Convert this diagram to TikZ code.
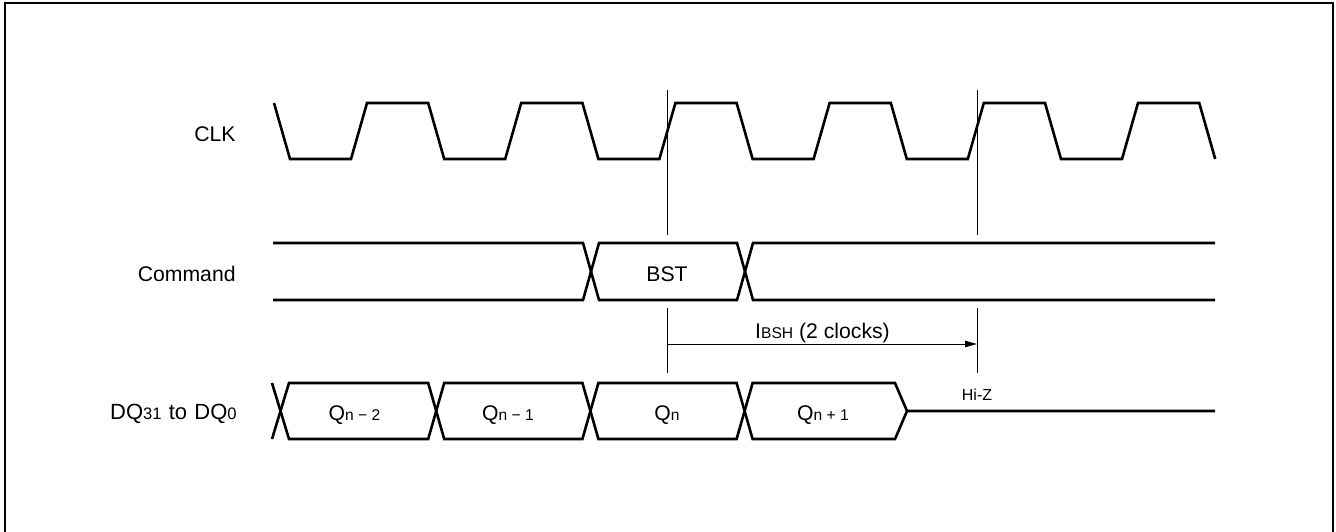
\documentclass[tikz,border=0pt]{standalone}
\usepackage{fontspec}
\setmainfont{Liberation Sans}
\usetikzlibrary{arrows.meta}
\newcommand\smtxt[1]{{\fontsize{7.8}{9}\selectfont #1}}
\newcommand\dqsub[1]{{\fontsize{8.3}{9}\selectfont #1}}
\tikzset{
  wave/.style={line width=1.3pt, line join=miter},
  ref/.style={line width=0.5pt},
  frame/.style={line width=0.85pt},
  lbl/.style={anchor=base east, inner sep=0pt, font=\fontsize{10.6}{13}\selectfont},
  val/.style={anchor=base, inner sep=0pt, font=\fontsize{10.6}{13}\selectfont},
  small/.style={anchor=base, inner sep=0pt, font=\fontsize{8}{9}\selectfont},
  dim/.style={line width=0.5pt, -{Triangle[length=6pt,width=3.2pt]}}
}
\begin{document}
\begin{tikzpicture}[x=0.5pt,y=-0.5pt]
\useasboundingbox (0,0) rectangle (1336,531);
\clip (0,0) rectangle (1336,531);
% frame
\draw[frame] (5,620) -- (5,3) -- (1333,3) -- (1333,620);

% labels
\node[lbl] (clk) at (236,141.5) {CLK};
\node[lbl] (cmd) at (236,281.5) {Command};
\node[lbl, font=\fontsize{11}{13}\selectfont] (dq) at (237,419.5) {DQ\dqsub{31}\hspace{3.6pt}to\hspace{3.6pt}DQ\dqsub{0}};

% CLK waveform
\draw[wave] (274,103) -- (290,159) -- (351,159) -- (367,103)
  -- (428.2,103) -- (444.2,159) -- (505.2,159) -- (521.2,103)
  -- (582.4,103) -- (598.4,159) -- (659.4,159) -- (675.4,103)
  -- (736.6,103) -- (752.6,159) -- (813.6,159) -- (829.6,103)
  -- (890.8,103) -- (906.8,159) -- (967.8,159) -- (983.8,103)
  -- (1045,103) -- (1061,159) -- (1122,159) -- (1138,103)
  -- (1199.2,103) -- (1215.2,159);

% reference lines
\coordinate (r1t) at (667,90);
\coordinate (r1m) at (667,235);
\coordinate (r1n) at (667,308);
\coordinate (r1b) at (667,373);
\coordinate (r2t) at (977,90);
\coordinate (r2m) at (977,235);
\coordinate (r2n) at (977,308);
\coordinate (r2b) at (977,373);
\draw[ref] (r1t) -- (r1m) (r1n) -- (r1b);
\draw[ref] (r2t) -- (r2m) (r2n) -- (r2b);

% Command bus
\draw[wave] (273,243) -- (583,243) -- (599,300) -- (737,300) -- (753,243) -- (1215,243);
\draw[wave] (273,300) -- (583,300) -- (599,243) -- (737,243) -- (753,300) -- (1215,300);
\node[val] (bst) at (667,281.5) {BST};

% tBSH arrow
\coordinate (a1) at (667,344);
\coordinate (a2) at (977,344);
\draw[dim] (a1) -- (a2);
\node[val] (ibsh) at (822.5,338.3) {I\smtxt{BSH} (2 clocks)};

% DQ bus
\draw[wave] (272,383) -- (289,439) -- (428.2,439) -- (444.2,383) -- (582.4,383) -- (598.4,439)
  -- (736.6,439) -- (752.6,383) -- (895,383) -- (907,411) -- (1215,411);
\draw[wave] (272,439) -- (289,383) -- (428.2,383) -- (444.2,439) -- (582.4,439) -- (598.4,383)
  -- (736.6,383) -- (752.6,439) -- (895,439) -- (907,411);
\node[val] (q2) at (354.5,420) {Q\smtxt{n − 2}};
\node[val] (q1) at (508,420) {Q\smtxt{n − 1}};
\node[val] (q0) at (667,420) {Q\smtxt{n}};
\node[val] (qp) at (823,420) {Q\smtxt{n + 1}};
\node[small] (hiz) at (977,400) {Hi-Z};
\end{tikzpicture}
\end{document}
